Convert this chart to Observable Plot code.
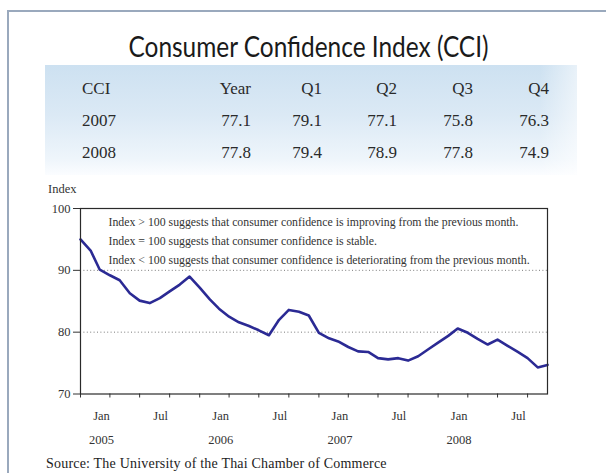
<!DOCTYPE html>
<html>
<head>
<meta charset="utf-8">
<script src="https://cdn.jsdelivr.net/npm/d3@7"></script>
<script src="https://cdn.jsdelivr.net/npm/@observablehq/plot@0.6"></script>
<style>
  html, body { margin: 0; padding: 0; background: #fff; }
  #wrap { position: relative; width: 606px; height: 473px; overflow: hidden; background: #fff; }
  #border { position: absolute; left: 7px; top: 10px; right: -4px; bottom: -4px;
            border-top: 2px solid #9aa9bd; border-left: 2px solid #9aa9bd; }
  #title { position: absolute; top: 28px; left: 0; width: 616px; text-align: center;
           font-family: Lato, "Noto Sans", sans-serif; font-weight: 400; font-size: 28px; color: #1a1a1a;
           white-space: nowrap; line-height: 36px; }
  #title span { display: inline-block; transform-origin: center; }
  #band { position: absolute; left: 45px; top: 65px; width: 532px; height: 110px;
          background: linear-gradient(to bottom, #cde1f1 0%, #dbe9f5 45%, #eef5fb 85%, #fbfdff 100%); }
  #bandFade { position: absolute; left: 540px; top: 65px; width: 37px; height: 110px;
          background: linear-gradient(to right, rgba(255,255,255,0) 0%, rgba(255,255,255,0.55) 100%); }
  .cell { position: absolute; font-family: "Liberation Serif", serif; font-size: 17px;
          color: #2a2a2a; line-height: 20px; white-space: nowrap; }
  #indexLabel { position: absolute; left: 48px; top: 182px; font-family: "Liberation Serif", serif;
                font-size: 12.5px; color: #333; }
  #chart { position: absolute; left: 0; top: 180px; }
  #source { position: absolute; left: 46px; top: 456px; font-family: "Liberation Serif", serif;
            font-size: 14px; color: #222; white-space: nowrap; letter-spacing: 0.2px; }
</style>
</head>
<body>
<div id="wrap">
  <div id="border"></div>
  <div id="band"></div>
  <div id="bandFade"></div>
  <div id="title"><span>Consumer Confidence Index (CCI)</span></div>
  <div id="indexLabel">Index</div>
  <div id="chart"></div>
  <div id="source">Source: The University of the Thai Chamber of Commerce</div>
</div>
<script>
// ---- table data ----
const tableHeader = ["CCI", "Year", "Q1", "Q2", "Q3", "Q4"];
const tableYears = ["2007", "2008"];
const cci2007 = [77.1, 79.1, 77.1, 75.8, 76.3];
const cci2008 = [77.8, 79.4, 78.9, 77.8, 74.9];

// ---- monthly index (Jan 2005 .. Dec 2008) ----
const startYear = 2005;
const cci2005m = [95.0, 93.2, 90.1, 89.2, 88.4, 86.3, 85.1, 84.7, 85.5, 86.6, 87.7, 89.0];
const cci2006m = [87.2, 85.3, 83.8, 82.5, 81.6, 81.0, 80.3, 79.5, 82.0, 83.6, 83.3, 82.7];
const cci2007m = [79.9, 79.0, 78.5, 77.6, 76.9, 76.8, 75.8, 75.6, 75.8, 75.4, 76.1, 77.2];
const cci2008m = [78.3, 79.4, 80.6, 79.9, 78.9, 78.0, 78.8, 77.8, 76.8, 75.8, 74.3, 74.7];

const yTicks = [70, 80, 90, 100];
const gridValues = [80, 90];
const monthLabels = ["Jan", "Jul"];
const yearLabels = ["2005", "2006", "2007", "2008"];
const notes = [
  "Index > 100 suggests that consumer confidence is improving from the previous month.",
  "Index = 100 suggests that consumer confidence is stable.",
  "Index < 100 suggests that consumer confidence is deteriorating from the previous month."
];

// ---- build table ----
const wrap = document.getElementById("wrap");
const colRight = [null, 251, 322, 397, 473, 549];
const rowTop = [79, 111, 143];
function addCell(text, row, col) {
  const d = document.createElement("div");
  d.className = "cell";
  d.textContent = text;
  d.style.top = rowTop[row] + "px";
  if (col === 0) d.style.left = "82px";
  else d.style.right = (606 - colRight[col]) + "px";
  wrap.appendChild(d);
}
tableHeader.forEach((h, j) => addCell(h, 0, j));
[cci2007, cci2008].forEach((vals, i) => {
  addCell(tableYears[i], i + 1, 0);
  vals.forEach((v, j) => addCell(v.toFixed(1), i + 1, j + 1));
});

// fit title width
const tspan = document.querySelector("#title span");
const tw = tspan.getBoundingClientRect().width;
tspan.style.transform = `scaleX(${360 / tw})`;

// ---- chart data ----
const monthly = [cci2005m, cci2006m, cci2007m, cci2008m].flatMap((arr, yi) =>
  arr.map((v, m) => ({date: new Date(Date.UTC(startYear + yi, m, 1)), value: v})));
const quarterTicks = monthly.filter(d => d.date.getUTCMonth() % 3 === 0).map(d => d.date);
const labelDates = monthly.filter(d => d.date.getUTCMonth() === 0 || d.date.getUTCMonth() === 6)
  .map(d => ({date: d.date, label: monthLabels[d.date.getUTCMonth() === 0 ? 0 : 1]}));
const yearDates = yearLabels.map(y => ({date: new Date(Date.UTC(+y, 0, 1)), label: y}));

const chart = Plot.plot({
  width: 606,
  height: 270,
  marginTop: 28,
  marginBottom: 56.5,
  marginLeft: 80,
  marginRight: 59,
  style: {fontFamily: "Liberation Serif, serif", fontSize: "12.5px", color: "#333", background: "transparent"},
  x: {type: "utc", domain: [monthly[0].date, monthly[monthly.length - 1].date]},
  y: {domain: [70, 100]},
  marks: [
    Plot.ruleY(gridValues, {stroke: "#7a7a7a", strokeDasharray: "1,2.4", strokeWidth: 1}),
    Plot.axisY({ticks: yTicks, tickSize: 7, tickPadding: 3, label: null, stroke: "#333"}),
    Plot.axisX({ticks: quarterTicks, tickSize: 4, tickFormat: () => "", label: null, stroke: "#333"}),
    Plot.text(labelDates, {x: "date", y: () => 70, text: "label", dx: 21, dy: 21.5, fontSize: 12.5, fill: "#333"}),
    Plot.text(yearDates, {x: "date", y: () => 70, text: "label", dx: 21, dy: 46, fontSize: 12.5, fill: "#333"}),
    Plot.text([notes.join("\n")], {frameAnchor: "top-left", textAnchor: "start", lineAnchor: "top",
      dx: 28, dy: 4, lineHeight: 1.6, fontSize: 11.8, fill: "#333"}),
    Plot.line(monthly, {x: "date", y: "value", stroke: "#2b2a94", strokeWidth: 2.6, strokeLinejoin: "round"}),
    Plot.frame({stroke: "#2a2a2a", strokeWidth: 1.2})
  ]
});
document.getElementById("chart").appendChild(chart);
</script>
</body>
</html>
